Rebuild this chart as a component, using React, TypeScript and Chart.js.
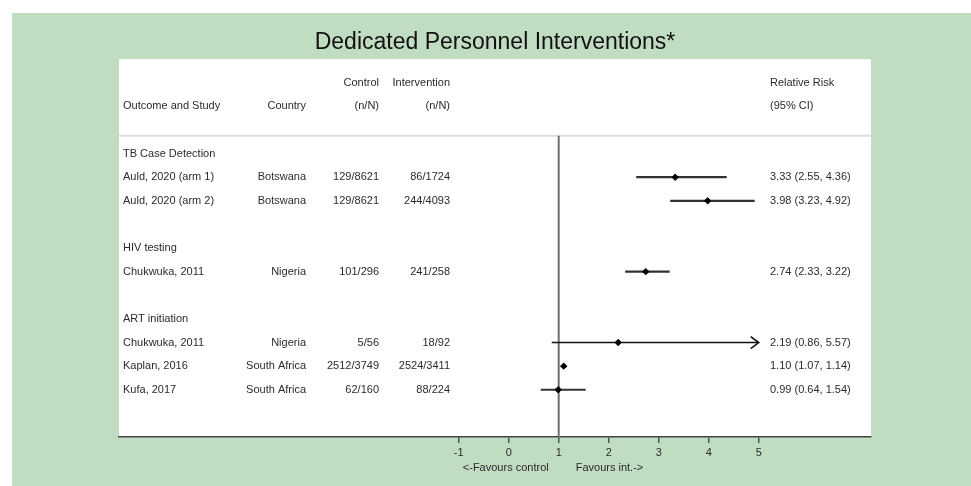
import React, { useEffect, useRef } from "react";
import { Chart, registerables } from "chart.js";

Chart.register(...registerables);

const titleText = "Dedicated Personnel Interventions*";
const groupLabels = ["TB Case Detection", "HIV testing", "ART initiation"];
const groupSizes = [2, 1, 3];
const studies = [
  "Auld, 2020 (arm 1)",
  "Auld, 2020 (arm 2)",
  "Chukwuka, 2011",
  "Chukwuka, 2011",
  "Kaplan, 2016",
  "Kufa, 2017",
];
const countries = ["Botswana", "Botswana", "Nigeria", "Nigeria", "South Africa", "South Africa"];
const controlCounts = ["129/8621", "129/8621", "101/296", "5/56", "2512/3749", "62/160"];
const interventionCounts = ["86/1724", "244/4093", "241/258", "18/92", "2524/3411", "88/224"];
const relativeRisk = [3.33, 3.98, 2.74, 2.19, 1.1, 0.99];
const ciLower = [2.55, 3.23, 2.33, 0.86, 1.07, 0.64];
const ciUpper = [4.36, 4.92, 3.22, 5.57, 1.14, 1.54];
const xTicks = [-1, 0, 1, 2, 3, 4, 5];
const headerTop = ["", "", "Control", "Intervention", "Relative Risk"];
const headerBottom = ["Outcome and Study", "Country", "(n/N)", "(n/N)", "(95% CI)"];
const favoursLeft = "<-Favours control";
const favoursRight = "Favours int.->";

// row layout derived from group structure
const groupRows: number[] = [];
const studyRows: number[] = [];
{
  let r = 4;
  groupSizes.forEach((n) => {
    groupRows.push(r);
    for (let k = 1; k <= n; k++) studyRows.push(r + k);
    r += n + 2;
  });
}

const FAMILY = '"Liberation Sans", Arial, sans-serif';
const FONT = `11px ${FAMILY}`;
const TEXT_COLOR = "#2b2b2b";
const CLIP_MAX = 5;

const forestPlugin = {
  id: "forest",
  beforeDraw(chart: any) {
    const { ctx, chartArea: a, width, height } = chart;
    ctx.save();
    ctx.fillStyle = "#ffffff";
    ctx.fillRect(0, 0, width, height);
    ctx.fillStyle = "rgb(192,220,193)";
    ctx.fillRect(12, 13, width - 12, height - 13);
    ctx.fillStyle = "#ffffff";
    ctx.fillRect(a.left, a.top, a.right - a.left, a.bottom - a.top);
    ctx.restore();
  },
  beforeDatasetsDraw(chart: any) {
    const { ctx, chartArea: a } = chart;
    const xs = chart.scales.x;
    const ys = chart.scales.y;
    ctx.save();
    const sepY = ys.getPixelForValue(3.25);
    ctx.strokeStyle = "#dddddd";
    ctx.lineWidth = 2;
    ctx.beginPath();
    ctx.moveTo(a.left, sepY);
    ctx.lineTo(a.right, sepY);
    ctx.stroke();

    const x1 = xs.getPixelForValue(1);
    ctx.strokeStyle = "#707070";
    ctx.lineWidth = 2;
    ctx.beginPath();
    ctx.moveTo(x1, sepY);
    ctx.lineTo(x1, a.bottom);
    ctx.stroke();

    studies.forEach((_, i) => {
      const yy = ys.getPixelForValue(studyRows[i]);
      const clipped = ciUpper[i] > CLIP_MAX;
      const lo = xs.getPixelForValue(ciLower[i]);
      const hi = xs.getPixelForValue(Math.min(ciUpper[i], CLIP_MAX));
      ctx.strokeStyle = clipped ? "#111" : "#333";
      ctx.lineWidth = clipped ? 1.6 : 2.2;
      ctx.beginPath();
      ctx.moveTo(lo, yy);
      ctx.lineTo(hi, yy);
      ctx.stroke();
      if (clipped) {
        ctx.lineWidth = 1.6;
        ctx.beginPath();
        ctx.moveTo(hi - 8, yy - 6);
        ctx.lineTo(hi, yy);
        ctx.lineTo(hi - 8, yy + 6);
        ctx.stroke();
      }
    });
    ctx.restore();
  },
  afterDraw(chart: any) {
    const { ctx } = chart;
    const xs = chart.scales.x;
    const ys = chart.scales.y;
    const colX = [123, 306, 379, 450, 770];
    const colAlign = ["left", "right", "right", "right", "left"];
    ctx.save();
    ctx.font = FONT;
    ctx.fillStyle = TEXT_COLOR;
    ctx.textBaseline = "middle";
    const put = (t: string, col: number, yy: number) => {
      ctx.textAlign = colAlign[col];
      ctx.fillText(t, colX[col], yy);
    };
    headerTop.forEach((t, c) => t && put(t, c, ys.getPixelForValue(1)));
    headerBottom.forEach((t, c) => put(t, c, ys.getPixelForValue(2)));
    groupLabels.forEach((g, i) => put(g, 0, ys.getPixelForValue(groupRows[i])));
    studies.forEach((s, i) => {
      const yy = ys.getPixelForValue(studyRows[i]);
      put(s, 0, yy);
      put(countries[i], 1, yy);
      put(controlCounts[i], 2, yy);
      put(interventionCounts[i], 3, yy);
      put(
        `${relativeRisk[i].toFixed(2)} (${ciLower[i].toFixed(2)}, ${ciUpper[i].toFixed(2)})`,
        4,
        yy
      );
    });
    const x1 = xs.getPixelForValue(1);
    ctx.textAlign = "right";
    ctx.fillText(favoursLeft, x1 - 10, 468);
    ctx.textAlign = "left";
    ctx.fillText(favoursRight, x1 + 17, 468);
    ctx.restore();
  },
};

export default function App() {
  const ref = useRef<HTMLCanvasElement | null>(null);
  useEffect(() => {
    if (!ref.current) return;
    const chart = new Chart(ref.current, {
      type: "scatter",
      data: {
        datasets: [
          {
            data: studies.map((_, i) => ({ x: relativeRisk[i], y: studyRows[i] })),
            pointStyle: "rectRot",
            pointRadius: 3.2,
            borderWidth: 1,
            backgroundColor: "#000",
            borderColor: "#000",
            clip: false as any,
          },
        ],
      },
      options: {
        responsive: false,
        animation: false,
        layout: { padding: { left: 119, right: 100, top: 13, bottom: 0 } },
        plugins: {
          legend: { display: false },
          tooltip: { enabled: false },
          title: {
            display: true,
            text: titleText,
            color: "#111",
            font: { size: 23, weight: "normal", family: FAMILY },
            padding: { top: 16, bottom: 2.5 },
          },
        },
        scales: {
          x: {
            type: "linear",
            min: -7.794,
            max: 7.246,
            afterBuildTicks: (scale: any) => {
              scale.ticks = xTicks.map((v) => ({ value: v }));
            },
            afterFit: (scale: any) => {
              scale.height = 49;
            },
            grid: { drawOnChartArea: false, drawTicks: true, tickLength: 6, color: "#555", lineWidth: 1.5 },
            border: { display: true, color: "#444", width: 1.5 },
            ticks: {
              padding: 3,
              color: TEXT_COLOR,
              font: { size: 11, family: FAMILY },
              callback: (v: any) => String(v),
            },
          },
          y: { type: "linear", reverse: true, min: 0, max: 16, display: false },
        },
      },
      plugins: [forestPlugin],
    } as any);
    return () => chart.destroy();
  }, []);
  return (
    <div style={{ position: "fixed", left: 0, top: 0, width: 971, height: 486 }}>
      <canvas ref={ref} width={971} height={486} style={{ display: "block" }} />
    </div>
  );
}
